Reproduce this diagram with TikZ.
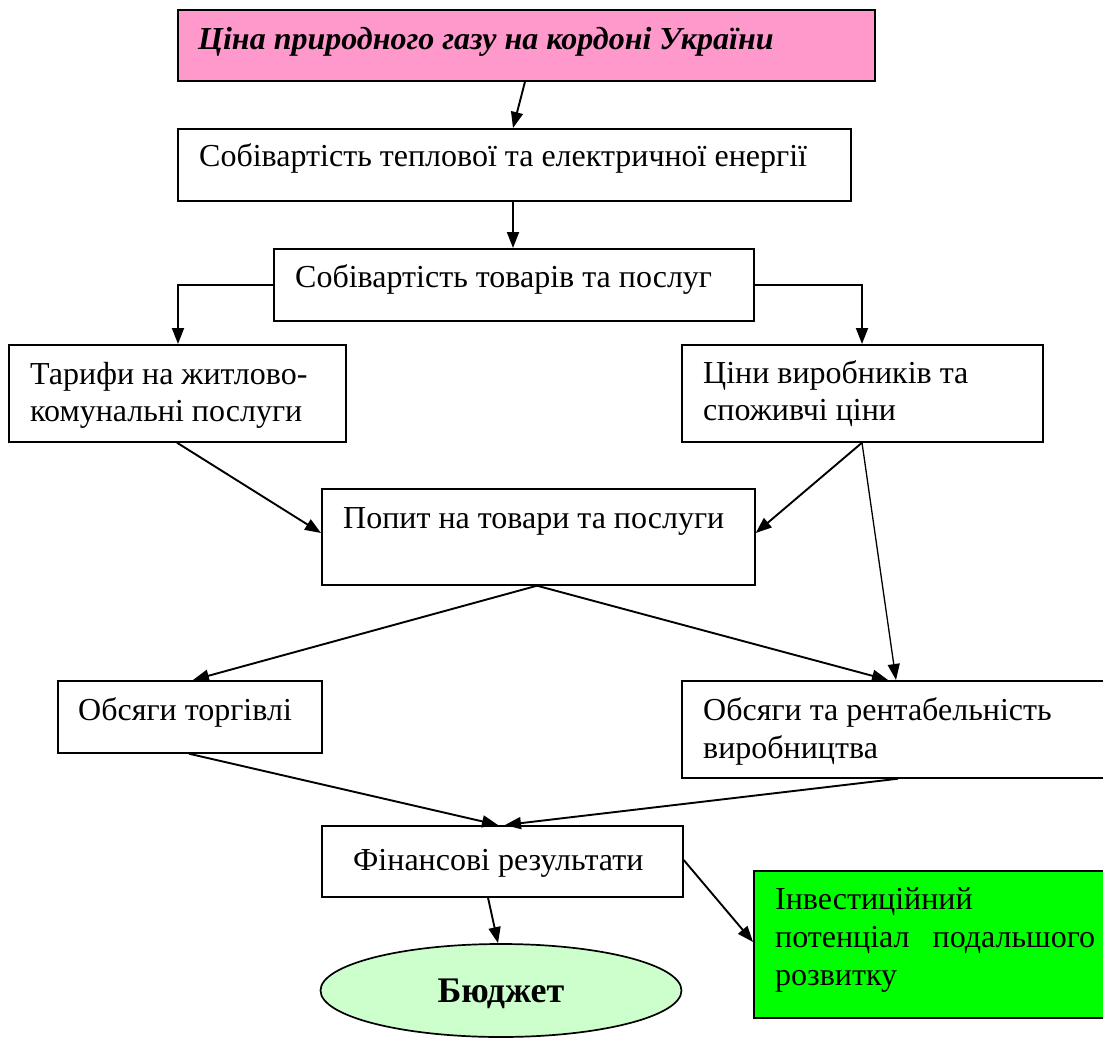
\documentclass[tikz,border=0pt]{standalone}
\usepackage{fontspec}
\setmainfont{Liberation Serif}
\usetikzlibrary{arrows.meta,shapes.geometric}
\definecolor{pinkfill}{HTML}{FF99CC}
\definecolor{greenfill}{HTML}{00FF00}
\definecolor{lightgreen}{HTML}{CCFFCC}
\tikzset{
  box/.style={draw, line width=1.7pt, inner sep=0pt, anchor=north west},
  txt/.style={anchor=base west, inner sep=0pt, font=\fontsize{32}{38}\selectfont},
  arr/.style={line width=1.9pt, -{Triangle[length=16pt,width=12pt]}},
  thinarr/.style={line width=1.3pt, -{Triangle[length=16pt,width=12pt]}}
}
\begin{document}
\begin{tikzpicture}[x=1pt,y=-1pt]
\useasboundingbox (0,0) rectangle (1103,1038);
% boxes
\node[box, fill=pinkfill, minimum width=697pt, minimum height=71pt] (gas) at (177,9) {};
\node[box, minimum width=673pt, minimum height=72pt] (sob) at (177,128) {};
\node[box, minimum width=480pt, minimum height=72pt] (tov) at (273,248) {};
\node[box, minimum width=337pt, minimum height=97pt] (tar) at (8,344) {};
\node[box, minimum width=361pt, minimum height=97pt] (cin) at (681,344) {};
\node[box, minimum width=433pt, minimum height=96pt] (pop) at (321,488) {};
\node[box, minimum width=264pt, minimum height=72pt] (tor) at (57,680) {};
\node[box, minimum width=439pt, minimum height=97pt] (ren) at (681,680) {};
\node[box, minimum width=361pt, minimum height=71pt] (fin) at (321,825) {};
\node[box, fill=greenfill, minimum width=367pt, minimum height=147pt] (inv) at (753,870) {};
\node[draw, line width=1.7pt, ellipse, fill=lightgreen, inner sep=0pt, minimum width=361pt, minimum height=93pt] (bud) at (501,990.5) {};
% texts
\node[txt, font=\fontsize{32}{38}\selectfont\bfseries\itshape] (gast) at (198,50) {Ціна природного газу на кордоні України};
\node[txt] (sobt) at (199,166) {Собівартість теплової та електричної енергії};
\node[txt] (tovt) at (295,287) {Собівартість товарів та послуг};
\node[txt] (tart1) at (30,384) {Тарифи на житлово-};
\node[txt] (tart2) at (30,421) {комунальні послуги};
\node[txt] (cint1) at (703,383) {Ціни виробників та};
\node[txt] (cint2) at (703,420) {споживчі ціни};
\node[txt] (popt) at (343,528) {Попит на товари та послуги};
\node[txt] (tort) at (78,720) {Обсяги торгівлі};
\node[txt] (rent1) at (703,720) {Обсяги та рентабельність};
\node[txt] (rent2) at (703,758) {виробництва};
\node[txt] (fint) at (353,870) {Фінансові результати};
\node[txt] (invt1) at (775,909) {Інвестиційний};
\node[txt] (invt2) at (775,947) {\makebox[320pt][s]{потенціал подальшого}};
\node[txt] (invt3) at (775,985) {розвитку};
\node[anchor=base, inner sep=0pt, font=\fontsize{36}{40}\selectfont\bfseries] (budt) at (501,1002) {Бюджет};
% connectors
\draw[arr] ([xshift=348pt]gas.south west) -- ([xshift=336pt]sob.north west);
\draw[arr] ([xshift=336pt]sob.south west) -- ([xshift=240pt]tov.north west);
\draw[arr] (tov.west) -| ([xshift=170pt]tar.north west);
\draw[arr] (tov.east) -| ([xshift=181pt]cin.north west);
\draw[arr] ([xshift=169pt]tar.south west) -- ([yshift=-45pt]pop.north west);
\draw[arr] ([xshift=181pt]cin.south west) -- ([yshift=-45pt]pop.north east);
\draw[thinarr] ([xshift=181pt]cin.south west) -- ([xshift=215pt]ren.north west);
\draw[arr] ([xshift=216pt]pop.south west) -- ([xshift=136pt]tor.north west);
\draw[arr] ([xshift=216pt]pop.south west) -- ([xshift=207pt]ren.north west);
\draw[arr] ([xshift=132pt]tor.south west) -- ([xshift=177pt]fin.north west);
\draw[arr] ([xshift=217pt]ren.south west) -- ([xshift=184pt]fin.north west);
\draw[arr] ([xshift=167pt]fin.south west) -- ([xshift=-3pt]bud.north);
\draw[arr] ([yshift=-35pt]fin.north east) -- ([yshift=-72pt]inv.north west);
\end{tikzpicture}
\end{document}
